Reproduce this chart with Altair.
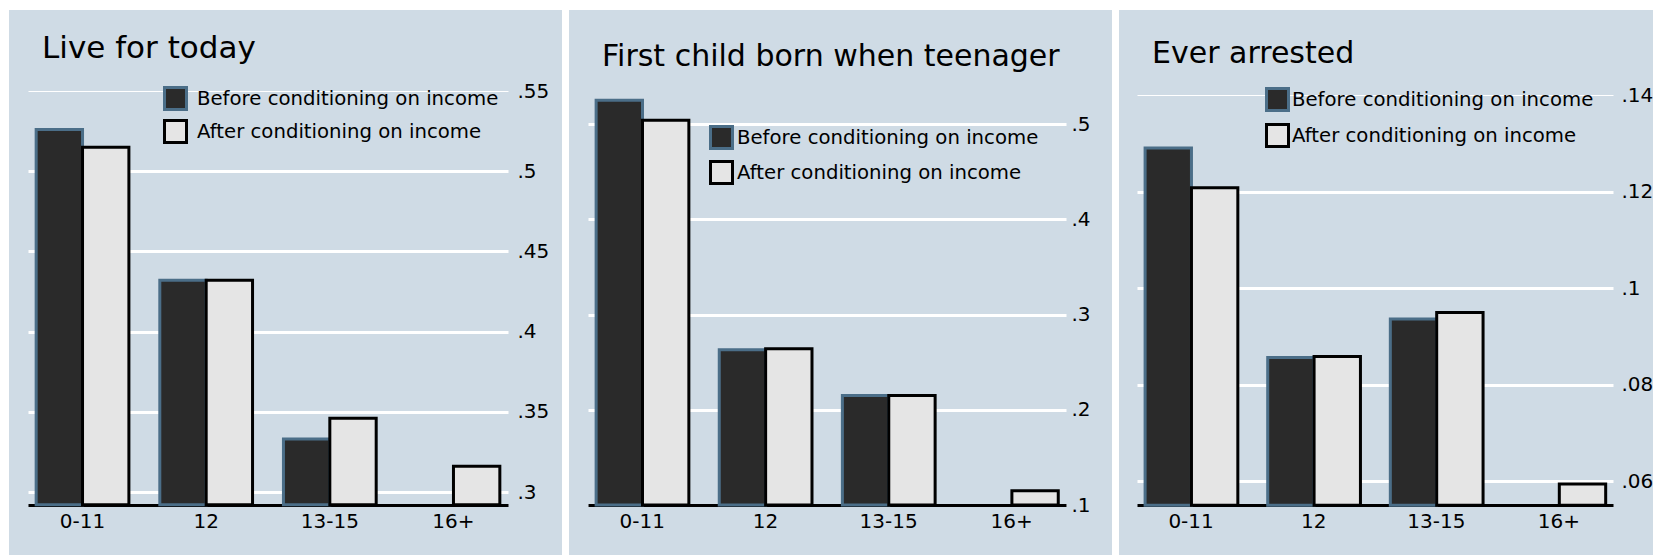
import altair as alt
import pandas as pd

FONT = "DejaVu Sans"

categories = ["0-11", "12", "13-15", "16+"]
series_names = ["Before conditioning on income", "After conditioning on income"]
titles = ["Live for today", "First child born when teenager", "Ever arrested"]

live_before = [0.526, 0.432, 0.333, None]
live_after = [0.515, 0.432, 0.346, 0.316]
teen_before = [0.525, 0.263, 0.215, None]
teen_after = [0.504, 0.264, 0.215, 0.115]
arrest_before = [0.129, 0.0856, 0.0936, None]
arrest_after = [0.1208, 0.0858, 0.0949, 0.0594]

live_ticks = [0.3, 0.35, 0.4, 0.45, 0.5, 0.55]
teen_ticks = [0.1, 0.2, 0.3, 0.4, 0.5]
arrest_ticks = [0.06, 0.08, 0.1, 0.12, 0.14]

axis_min = [0.292, 0.1, 0.055]

fill_colors = ["#2a2a2a", "#e5e5e5"]
stroke_colors = ["#4b6e88", "#000000"]
panel_bg = "#cfdbe5"

layouts = [
    dict(width=553, xr=[19, 499], yr=[482, 81], axis_x=499, lab_pad=9, leg_x=154, leg_y=76,
         leg_off=9, row_pad=-2, title_size=31, title_dx=33, title_y=51, thin_top=True),
    dict(width=543, xr=[19, 497], yr=[495, 114], axis_x=497, lab_pad=5, leg_x=140, leg_y=115,
         leg_off=3, row_pad=0, title_size=30, title_dx=33, title_y=58, thin_top=False),
    dict(width=534, xr=[18, 494], yr=[471, 85], axis_x=494, lab_pad=8, leg_x=146, leg_y=77,
         leg_off=2, row_pad=1, title_size=30, title_dx=33, title_y=55, thin_top=True),
]
HEIGHT = 545
BASE_PX = 495
TITLE_SHIFT = 28


def make_panel(i, before, after, ticks):
    L = layouts[i]
    rows = []
    for c, b, a in zip(categories, before, after):
        if b is not None:
            rows.append({"cat": c, "series": series_names[0], "idx": 0, "value": b, "base": axis_min[i]})
        if a is not None:
            rows.append({"cat": c, "series": series_names[1], "idx": 1, "value": a, "base": axis_min[i]})
    df = pd.DataFrame(rows)
    lo, hi = ticks[0], ticks[-1]
    if L["thin_top"]:
        grid_w = {"condition": {"test": f"datum.value >= {hi - 1e-6}", "value": 1}, "value": 3}
    else:
        grid_w = 3
    legend = alt.Legend(
        title=None, orient="none", legendX=L["leg_x"], legendY=L["leg_y"], direction="vertical",
        symbolType="square", symbolSize=484, symbolStrokeWidth=3, symbolOpacity=1,
        labelFontSize=19.7, labelFont=FONT, labelColor="black", rowPadding=L["row_pad"],
        labelOffset=L["leg_off"], padding=0, labelLimit=400,
    )
    return alt.Chart(df).mark_bar(strokeWidth=3).encode(
        x=alt.X("cat:N", sort=categories,
                scale=alt.Scale(range=L["xr"], paddingInner=0.25, paddingOuter=0.066),
                axis=alt.Axis(title=None, orient="bottom", offset=BASE_PX - HEIGHT, labelAngle=0,
                              domainColor="black", domainWidth=3, ticks=False, labelFontSize=20,
                              labelPadding=6, labelColor="black", labelFont=FONT, grid=False)),
        xOffset=alt.XOffset("series:N", sort=series_names,
                            scale=alt.Scale(domain=series_names, paddingInner=0, paddingOuter=0)),
        y=alt.Y("value:Q",
                scale=alt.Scale(domain=[lo, hi], range=L["yr"], zero=False, nice=False),
                axis=alt.Axis(title=None, orient="left", offset=-L["axis_x"], values=ticks,
                              labelExpr="substring(format(datum.value, '.2~f'), 1)",
                              labelAlign="left", labelPadding=-L["lab_pad"], tickSize=0, ticks=False,
                              domain=False, grid=True, gridColor="white", gridWidth=grid_w,
                              gridOpacity=1, labelFontSize=20, labelColor="black", labelFont=FONT)),
        y2="base:Q",
        fill=alt.Fill("series:N", sort=series_names,
                      scale=alt.Scale(domain=series_names, range=fill_colors), legend=legend),
        stroke=alt.Stroke("series:N", sort=series_names,
                          scale=alt.Scale(domain=series_names, range=stroke_colors), legend=legend),
        order=alt.Order("idx:Q"),
    ).properties(
        width=L["width"], height=HEIGHT,
        title=alt.TitleParams(text=titles[i], anchor="start", dx=L["title_dx"],
                              offset=-(L["title_y"] + TITLE_SHIFT),
                              baseline="alphabetic", fontSize=L["title_size"], font=FONT,
                              fontWeight="normal", color="black", frame="group"),
    )


p1 = make_panel(0, live_before, live_after, live_ticks)
p2 = make_panel(1, teen_before, teen_after, teen_ticks)
p3 = make_panel(2, arrest_before, arrest_after, arrest_ticks)

chart = alt.hconcat(p1, p2, p3, spacing=7).resolve_scale(
    fill="independent", stroke="independent", x="independent", y="independent"
).resolve_legend(
    fill="independent", stroke="independent"
).configure_view(
    fill=panel_bg, strokeWidth=0
).properties(
    padding={"left": 1, "top": 2, "right": 0, "bottom": 0}, background="white"
)

chart.save("out.html", embed_options={"renderer": "svg", "actions": False})
